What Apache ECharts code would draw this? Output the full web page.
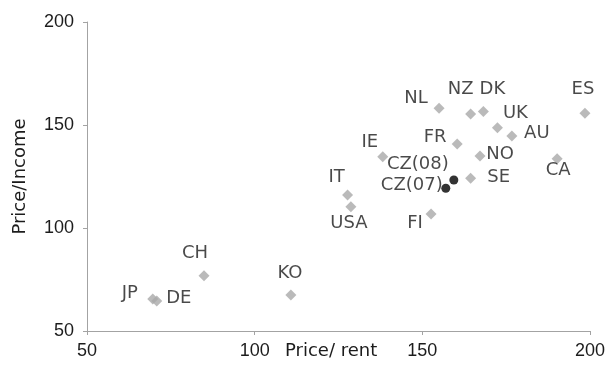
<!DOCTYPE html>
<html>
<head>
<meta charset="utf-8">
<script src="https://cdn.jsdelivr.net/npm/echarts@6/dist/echarts.min.js"></script>
<style>html,body{margin:0;padding:0;background:#fff}#c{width:608px;height:365px}</style>
</head>
<body>
<div id="c"></div>
<script>
// Data
const countries   = ['JP','DE','CH','KO','NL','NZ','DK','ES','UK','AU','FR','NO','IE','CA','SE','IT','USA','FI'];
const priceRent   = [69.6, 70.8, 84.9, 110.8, 155.0, 164.4, 168.2, 198.5, 172.4, 176.7, 160.4, 167.2, 138.2, 190.2, 164.4, 127.7, 128.7, 152.6];
const priceIncome = [65.5, 64.6, 76.8, 67.5, 158.1, 155.3, 156.5, 155.7, 148.7, 144.7, 140.8, 135.0, 134.6, 133.6, 124.1, 116.0, 110.3, 106.8];
const czLabels    = ['CZ(08)','CZ(07)'];
const czRent      = [159.4, 157.0];
const czIncome    = [123.3, 119.3];
const xTicks = [50, 100, 150, 200];
const yTicks = [50, 100, 150, 200];

// Label placement (style)
const labelOffsets = {
  'JP':[-23,-6],'DE':[22,-3],'CH':[-9,-22],'KO':[-1,-22],'NL':[-23,-10],'NZ':[-10,-25],
  'DK':[9,-22],'ES':[-2,-24],'UK':[18,-14],'AU':[25,-3],'FR':[-22,-7],'NO':[20,-2],
  'IE':[-13,-14],'CA':[1,12],'SE':[28,-1],'IT':[-11,-18],'USA':[-2,17],'FI':[-16,9],
  'CZ(08)':[-36,-16],'CZ(07)':[-34,-3]
};
const FONT = 'Liberation Sans, Arial, sans-serif';
const WFONT = 'DejaVu Sans, sans-serif';
const TXT = '#1c1c1c';

function mk(names, xs, ys) {
  return names.map((n, i) => ({
    name: n, value: [xs[i], ys[i]],
    label: { offset: labelOffsets[n] }
  }));
}

const labelStyle = { show: true, position: 'inside', formatter: '{b}', color: TXT, fontSize: 18, fontFamily: WFONT, align: 'center', verticalAlign: 'middle' };

const chart = echarts.init(document.getElementById('c'), null, {renderer: 'canvas'});
chart.setOption({
  animation: false,
  backgroundColor: '#fff',
  grid: { left: 87, right: 18, top: 22, bottom: 34, containLabel: false },
  xAxis: {
    type: 'value', min: xTicks[0], max: xTicks[xTicks.length-1], interval: 50,
    axisLine: { show: true, lineStyle: { color: '#a3a3a3', width: 1 } },
    axisTick: { show: true, length: 4, lineStyle: { color: '#a3a3a3' } },
    axisLabel: { color: TXT, fontSize: 18, fontFamily: FONT, margin: 11 },
    splitLine: { show: false }
  },
  yAxis: {
    type: 'value', min: yTicks[0], max: yTicks[yTicks.length-1], interval: 50,
    name: 'Price/Income', nameLocation: 'middle', nameGap: 58, nameRotate: 90,
    nameTextStyle: { color: TXT, fontSize: 18, fontFamily: WFONT },
    axisLine: { show: true, lineStyle: { color: '#a3a3a3', width: 1 } },
    axisTick: { show: true, length: 4, lineStyle: { color: '#a3a3a3' } },
    axisLabel: { color: TXT, fontSize: 18, fontFamily: FONT, margin: 13 },
    splitLine: { show: false }
  },
  graphic: [{
    type: 'text', left: 285, top: 342,
    style: { text: 'Price/ rent', fill: TXT, font: '18px ' + WFONT }
  }],
  series: [
    {
      type: 'scatter', symbol: 'diamond', symbolSize: 11,
      itemStyle: { color: '#a9a9a9' },
      label: labelStyle,
      emphasis: { disabled: true },
      data: mk(countries, priceRent, priceIncome)
    },
    {
      type: 'scatter', symbol: 'circle', symbolSize: 9,
      itemStyle: { color: '#000' },
      label: labelStyle,
      emphasis: { disabled: true },
      data: mk(czLabels, czRent, czIncome)
    }
  ]
});
</script>
</body>
</html>
